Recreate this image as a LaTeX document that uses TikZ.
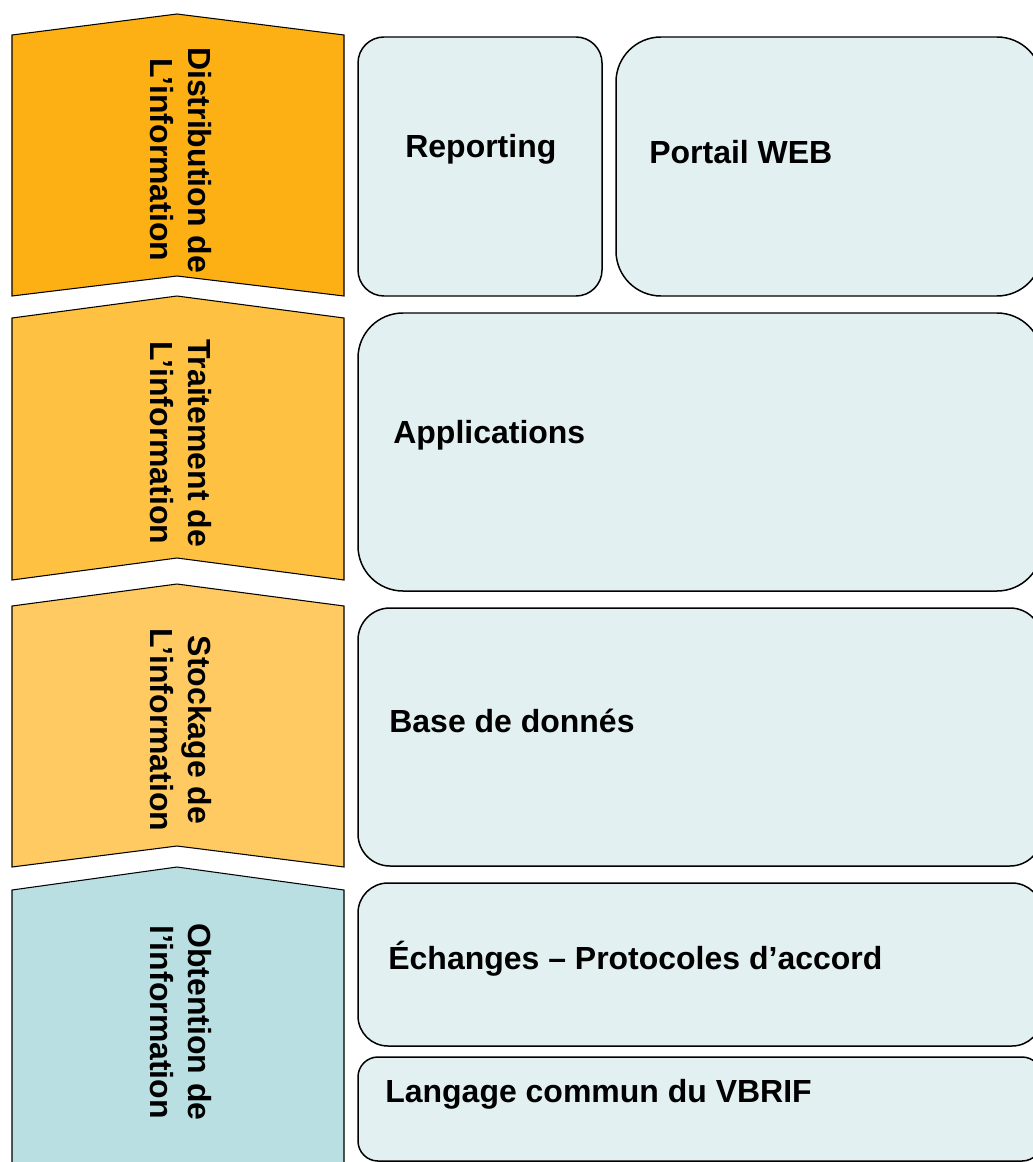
\documentclass[tikz,border=0pt]{standalone}
\usepackage{fontspec}
\setmainfont{Liberation Sans}
\usepackage{tikz}

\definecolor{distrib}{HTML}{FDB014}
\definecolor{traite}{HTML}{FFC142}
\definecolor{stock}{HTML}{FFCA62}
\definecolor{obtient}{HTML}{B9DFE2}
\definecolor{bloc}{HTML}{E2F0F1}

\tikzset{
    chevron/.style={draw=black, line width=0.6pt, line join=miter},
    etiquette/.style={rotate=-90, align=center, inner sep=0pt, font=\bfseries\fontsize{18.2}{21.5}\selectfont},
    bloc/.style={draw=black, fill=bloc, line width=0.85pt},
    titre/.style={anchor=base west, inner sep=0pt, font=\bfseries\fontsize{18.2}{21.5}\selectfont}
}

\begin{document}
\begin{tikzpicture}[x=0.02cm, y=-0.02cm]
        \clip (0, 0) rectangle (1033, 1162);
        \fill[white] (0, 0) rectangle (1033, 1162);

        % les quatre niveaux
        \filldraw[chevron, fill=distrib] (12, 35) -- (177, 14) -- (344, 35) -- (344, 296) -- (177, 276) -- (12, 296) -- cycle;
        \filldraw[chevron, fill=traite] (12, 318) -- (177, 296) -- (344, 318) -- (344, 580) -- (177, 558) -- (12, 580) -- cycle;
        \filldraw[chevron, fill=stock] (12, 606) -- (177, 584) -- (344, 606) -- (344, 867) -- (177, 846) -- (12, 867) -- cycle;
        \filldraw[chevron, fill=obtient] (12, 890) -- (177, 867) -- (344, 890) -- (344, 1230) -- (177, 1208) -- (12, 1230) -- cycle;

        \node[etiquette] (distribution) at (181, 160) {Distribution de\\L’information};
        \node[etiquette] (traitement) at (181, 443) {Traitement de\\L’information};
        \node[etiquette] (stockage) at (181, 730) {Stockage de\\L’information};
        \node[etiquette] (obtention) at (181, 1022) {Obtention de\\l’information};

        % les blocs
        \filldraw[bloc, rounded corners=0.52cm] (358, 37) rectangle (602, 296);
        \filldraw[bloc, rounded corners=0.9cm] (616, 37) rectangle (1042, 296);
        \filldraw[bloc, rounded corners=0.9cm] (358, 313) rectangle (1042, 591);
        \filldraw[bloc, rounded corners=0.64cm] (358, 608) rectangle (1042, 866);
        \filldraw[bloc, rounded corners=0.6cm] (358, 883) rectangle (1042, 1046);
        \filldraw[bloc, rounded corners=0.4cm] (358, 1057) rectangle (1042, 1161);

        \node[titre] (reporting) at (405, 158) {Reporting};
        \node[titre] (portail) at (649, 164) {Portail WEB};
        \node[titre] (applications) at (393, 443) {Applications};
        \node[titre] (base) at (389, 732) {Base de donnés};
        \node[titre] (echanges) at (388, 969) {Échanges – Protocoles d’accord};
        \node[titre] (langage) at (385, 1102) {Langage commun du VBRIF};
    \end{tikzpicture}
\end{document}
